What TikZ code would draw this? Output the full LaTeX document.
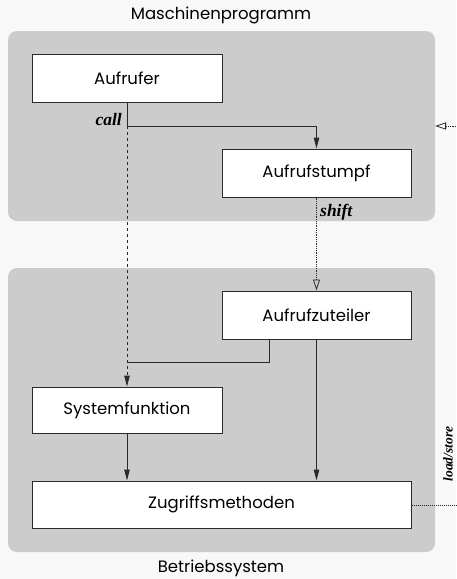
\documentclass[tikz,border=0pt]{standalone}
\usepackage{fontspec}
\setmainfont{Poppins}
\newfontfamily\labelfont{Liberation Serif}
\usetikzlibrary{arrows.meta}
\definecolor{pagebg}{HTML}{F8F8F8}
\definecolor{panelbg}{HTML}{CCCCCC}
\definecolor{ink}{HTML}{2A2A2A}
\begin{document}
\begin{tikzpicture}[x=1pt,y=1pt,
  panel/.style={fill=panelbg, rounded corners=9pt},
  unit/.style={draw=ink, line width=1pt, fill=white, inner sep=0pt,
    font=\fontsize{16.5}{18}\selectfont},
  flow/.style={draw=ink, line width=1pt, -{Triangle[length=11pt,width=5.5pt]}},
  link/.style={draw=ink, line width=1pt},
  ctrl/.style={draw=ink, line width=0.8pt, densely dotted,
    -{Triangle[open,length=11pt,width=7pt]}},
  tag/.style={font=\labelfont\bfseries\itshape\fontsize{17.5}{20}\selectfont, inner sep=0pt},
  heading/.style={font=\fontsize{16.5}{18}\selectfont, inner sep=0pt}]
  % page and the two layers
  \fill[pagebg] (0,0) rectangle (456,-579);
  \useasboundingbox (0,0) rectangle (456,-579);
  \fill[panel] (8,-31) rectangle (435,-221);
  \fill[panel] (8,-268) rectangle (435,-552);
  \node[heading] (tmp) at (221,-15) {Maschinenprogramm};
  \node[heading] (os) at (221,-568) {Betriebssystem};

  % components
  \node[unit, minimum width=190pt, minimum height=48pt] (caller) at (127,-78) {Aufrufer};
  \node[unit, minimum width=189pt, minimum height=48pt] (stub) at (316.5,-173) {Aufrufstumpf};
  \node[unit, minimum width=189pt, minimum height=48pt] (disp) at (316.5,-315) {Aufrufzuteiler};
  \node[unit, minimum width=190pt, minimum height=46pt] (sysf) at (127,-410) {Systemfunktion};
  \node[unit, minimum width=379pt, minimum height=47pt] (acc) at (221.5,-504.5) {Zugriffsmethoden};

  % connection points
  \coordinate (callpt) at (127,-126);
  \coordinate (join) at (127,-362);
  \coordinate (trapin) at (456,-126);
  \coordinate (memout) at (456,-505);

  % call path
  \draw[link] (caller.south) -- (callpt);
  \draw[flow] (callpt) -| (stub.north);
  \draw[flow, dashed] (callpt) -- (sysf.north);
  \node[tag, anchor=base east] (calltag) at (122,-125) {call};

  % trap into the operating system
  \draw[ctrl] (stub.south) -- (disp.north);
  \node[tag, anchor=base west] (shifttag) at (320,-216) {shift};

  % dispatch
  \draw[link] ([xshift=-47.5pt]disp.south) |- (join);
  \draw[flow] (disp.south) -- (disp.south |- acc.north);
  \draw[flow] (sysf.south) -- (acc.north -| sysf.south);

  % memory access and incoming trap
  \draw[link, densely dotted, line width=0.8pt] (acc.east |- memout) -- (memout);
  \node[tag, rotate=90, anchor=base, font=\labelfont\bfseries\itshape\fontsize{13.5}{16}\selectfont] (lstag) at (452.5,-454) {load/store};
  \draw[ctrl] (trapin) -- (435,-126);
\end{tikzpicture}
\end{document}
